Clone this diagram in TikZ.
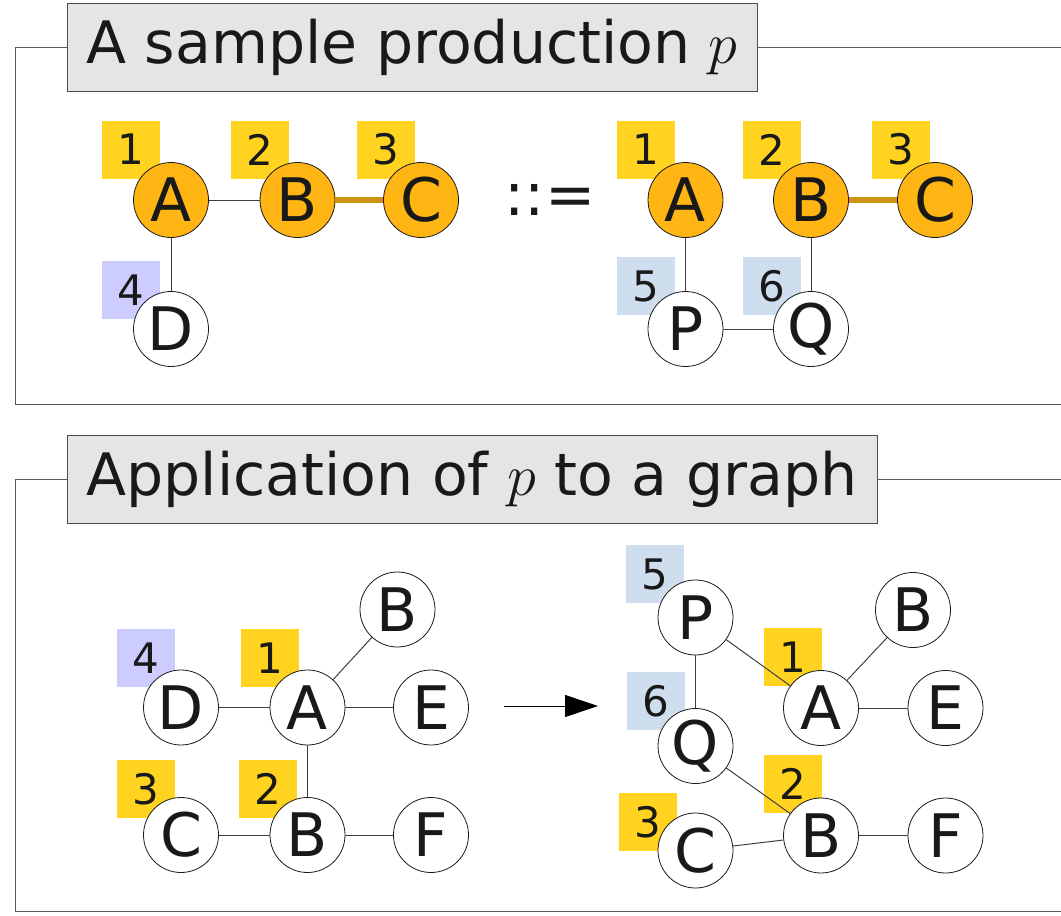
\RequirePackage{fix-cm}
\documentclass[tikz,border=0pt]{standalone}
\usepackage{fontspec}
\setmainfont{DejaVu Sans}
\usetikzlibrary{arrows.meta}

\definecolor{tagyellow}{RGB}{255,211,32}
\definecolor{tagviolet}{RGB}{204,204,255}
\definecolor{tagblue}{RGB}{207,222,239}
\definecolor{hotorange}{RGB}{255,181,20}
\definecolor{hotedge}{RGB}{204,146,20}

\begin{document}
\begin{tikzpicture}[x=1pt, y=-1pt,
    vert/.style={circle, draw=black!90, line width=0.8pt, fill=white, minimum size=75pt, inner sep=0pt, text=black!90, font=\fontsize{60}{60}\selectfont},
    hot/.style={vert, fill=hotorange},
    tag/.style={minimum size=58pt, inner sep=0pt, fill=tagyellow, text=black!90, font=\fontsize{42}{42}\selectfont},
    newtag/.style={tag, fill=tagblue},
    deltag/.style={tag, fill=tagviolet},
    edge/.style={draw=black!75, line width=1pt},
    heavy/.style={draw=hotedge, line width=6pt},
    titlebox/.style={draw=black!70, line width=1pt, fill=black!10, minimum height=88pt, inner sep=0pt, text=black!90, font=\fontsize{58.5}{58.5}\selectfont},
    frame/.style={draw=black!65, line width=1pt}]
    \useasboundingbox (0,0) rectangle (1061,916);

    % Frames and titles
    \node[titlebox, minimum width=690pt] (t1) at (412,47) {A sample production $p$};
    \draw[frame] (t1.west) -| (15,404) -- (1070,404);
    \draw[frame] (t1.east) -- (1070,47);
    \node[titlebox, minimum width=810pt] (t2) at (472,479.5) {Application of $p$ to a graph};
    \draw[frame] (t2.west) -| (15,911.5) -- (1070,911.5);
    \draw[frame] (t2.east) -- (1070,479.5);

    % Production, left side
    \node[tag] (lhs1) at (131,149.5) {1};
    \node[tag] (lhs2) at (260,149.5) {2};
    \node[tag] (lhs3) at (386,149.5) {3};
    \node[deltag] (lhs4) at (131,290) {4};
    \node[hot] (lhsA) at (171,200) {A};
    \node[hot] (lhsB) at (297.5,200) {B};
    \node[hot] (lhsC) at (421,200) {C};
    \node[vert] (lhsD) at (171,329) {D};
    \draw[edge] (lhsA) -- (lhsB);
    \draw[edge] (lhsA) -- (lhsD);
    \draw[heavy] (lhsB) -- (lhsC);

    \node[text=black!90, font=\fontsize{60}{60}\selectfont] (def) at (550,200) {::=};

    % Production, right side
    \node[tag] (rhs1) at (645.5,149.5) {1};
    \node[tag] (rhs2) at (772,149.5) {2};
    \node[tag] (rhs3) at (901,149.5) {3};
    \node[newtag] (rhs5) at (645.5,286) {5};
    \node[newtag] (rhs6) at (772,286) {6};
    \node[hot] (rhsA) at (685.5,200) {A};
    \node[hot] (rhsB) at (811,200) {B};
    \node[hot] (rhsC) at (935,200) {C};
    \node[vert] (rhsP) at (685.5,329) {P};
    \node[vert] (rhsQ) at (811,329) {Q};
    \draw[edge] (rhsA) -- (rhsP);
    \draw[edge] (rhsP) -- (rhsQ);
    \draw[edge] (rhsB) -- (rhsQ);
    \draw[heavy] (rhsB) -- (rhsC);

    % Host graph
    \node[deltag] (host4) at (146,658) {4};
    \node[tag] (host1) at (269.5,658) {1};
    \node[tag] (host3) at (146,789) {3};
    \node[tag] (host2) at (268,789) {2};
    \node[vert] (hostD) at (181,707.5) {D};
    \node[vert] (hostA) at (307.5,707.5) {A};
    \node[vert] (hostE) at (431,707.5) {E};
    \node[vert] (hostB1) at (397.5,609.5) {B};
    \node[vert] (hostC) at (181,835) {C};
    \node[vert] (hostB2) at (307.5,835) {B};
    \node[vert] (hostF) at (431,835) {F};
    \draw[edge] (hostD) -- (hostA);
    \draw[edge] (hostA) -- (hostE);
    \draw[edge] (hostA) -- (hostB1);
    \draw[edge] (hostA) -- (hostB2);
    \draw[edge] (hostC) -- (hostB2);
    \draw[edge] (hostB2) -- (hostF);

    % Rewriting step
    \coordinate (step-from) at (504,706);
    \coordinate (step-to) at (598,706);
    \draw[line width=1pt, -{Triangle[length=33pt, width=22pt]}] (step-from) -- (step-to);

    % Result graph
    \node[newtag] (res5) at (655,574) {5};
    \node[newtag] (res6) at (655.5,701) {6};
    \node[tag] (res1) at (793,657) {1};
    \node[tag] (res2) at (793,784) {2};
    \node[tag] (res3) at (648,822) {3};
    \node[vert] (resP) at (695.5,617.5) {P};
    \node[vert] (resQ) at (695.5,746) {Q};
    \node[vert] (resA) at (821,708) {A};
    \node[vert] (resE) at (945.5,708) {E};
    \node[vert] (resB1) at (913,610) {B};
    \node[vert] (resB2) at (821,835.5) {B};
    \node[vert] (resF) at (945.5,835.5) {F};
    \node[vert] (resC) at (695.5,850.5) {C};
    \draw[edge] (resP) -- (resA);
    \draw[edge] (resP) -- (resQ);
    \draw[edge] (resQ) -- (resB2);
    \draw[edge] (resC) -- (resB2);
    \draw[edge] (resA) -- (resB1);
    \draw[edge] (resA) -- (resE);
    \draw[edge] (resB2) -- (resF);
\end{tikzpicture}
\end{document}
